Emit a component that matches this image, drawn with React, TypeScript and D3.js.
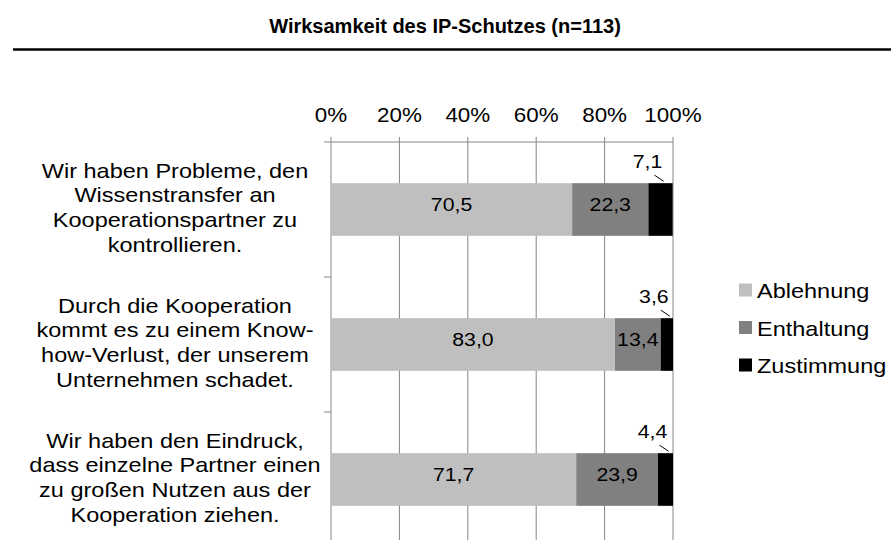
import React from "react";
import * as d3 from "d3";

const categories = [
  ["Wir haben Probleme, den", "Wissenstransfer an", "Kooperationspartner zu", "kontrollieren."],
  ["Durch die Kooperation", "kommt es zu einem Know-", "how-Verlust, der unserem", "Unternehmen schadet."],
  ["Wir haben den Eindruck,", "dass einzelne Partner einen", "zu großen Nutzen aus der", "Kooperation ziehen."],
];
const seriesNames = ["Ablehnung", "Enthaltung", "Zustimmung"];
const ablehnung = [70.5, 83.0, 71.7];
const enthaltung = [22.3, 13.4, 23.9];
const zustimmung = [7.1, 3.6, 4.4];
const colors = ["#bfbfbf", "#808080", "#000000"];
const ticks = [0, 20, 40, 60, 80, 100];

const W = 891;
const H = 540;
const font = "'Liberation Sans', Arial, sans-serif";
const SX = 1.12; // the source picture is a little stretched sideways

const fmt = (v: number) => v.toFixed(1).replace(".", ",");

// text with a horizontal stretch
const T = ({ x, y, size, anchor = "middle", weight = "normal", sx = SX, children }: any) => (
  <g transform={`translate(${x},${y}) scale(${sx},1)`}>
    <text x={0} y={0} textAnchor={anchor} fontSize={size} fontWeight={weight} fill="#000">
      {children}
    </text>
  </g>
);

export default function App() {
  const x = d3.scaleLinear().domain([0, 100]).range([331, 673]);
  const y = d3
    .scaleBand<number>()
    .domain([0, 1, 2])
    .range([142, 547])
    .paddingInner(0.61)
    .paddingOuter(0.305);
  const step = y.step();
  const series = [ablehnung, enthaltung, zustimmung];

  // stack rows
  const rows = categories.map((_, i) => {
    let acc = 0;
    return series.map((s, k) => {
      const seg = { k, x0: acc, x1: acc + s[i], v: s[i] };
      acc += s[i];
      return seg;
    });
  });

  return (
    <svg
      width={W}
      height={H}
      style={{ position: "absolute", left: 0, top: 0, background: "#fff" }}
      fontFamily={font}
    >
      <T x={445} y={33} size={20} weight="bold" sx={1}>
        Wirksamkeit des IP-Schutzes (n=113)
      </T>
      <line x1={13} x2={W} y1={49.5} y2={49.5} stroke="#000" strokeWidth={2.5} />

      {/* grid + axis */}
      {ticks.map((t) => (
        <g key={t}>
          <line x1={x(t)} x2={x(t)} y1={137} y2={H + 10} stroke="#868686" strokeWidth={1} />
          <T x={x(t)} y={121.5} size={20}>
            {t}%
          </T>
        </g>
      ))}
      <line x1={331} x2={673} y1={142} y2={142} stroke="#868686" />
      {[0, 1, 2].map((i) => (
        <line
          key={i}
          x1={324}
          x2={331}
          y1={142 + i * step}
          y2={142 + i * step}
          stroke="#868686"
        />
      ))}

      {/* bars */}
      {rows.map((row, i) => {
        const by = y(i) as number;
        const bh = y.bandwidth();
        const mid = by + bh / 2;
        return (
          <g key={i}>
            {row.map((seg) => (
              <rect
                key={seg.k}
                x={x(seg.x0)}
                y={by}
                width={x(seg.x1) - x(seg.x0)}
                height={bh}
                fill={colors[seg.k]}
              />
            ))}
            {row.slice(0, 2).map((seg) => (
              <T key={"l" + seg.k} x={(x(seg.x0) + x(seg.x1)) / 2} y={mid + 1.5} size={19}>
                {fmt(seg.v)}
              </T>
            ))}
            {(() => {
              const seg = row[2];
              const cx = (x(seg.x0) + x(seg.x1)) / 2;
              return (
                <g>
                  <line x1={cx - 6} y1={by - 8} x2={cx + 3} y2={by - 2} stroke="#000" strokeWidth={1} />
                  <T x={cx - 13} y={by - 15} size={19}>
                    {fmt(seg.v)}
                  </T>
                </g>
              );
            })()}
            {categories[i].map((line, j) => (
              <T key={"c" + j} x={175} y={mid - 32 + j * 24.7} size={21}>
                {line}
              </T>
            ))}
          </g>
        );
      })}

      {/* legend */}
      {seriesNames.map((n, k) => (
        <g key={n} transform={`translate(739, ${290 + k * 37.5})`}>
          <rect x={0} y={-6.5} width={13} height={13} fill={colors[k]} />
          <T x={18} y={8} size={21} anchor="start">
            {n}
          </T>
        </g>
      ))}
    </svg>
  );
}
